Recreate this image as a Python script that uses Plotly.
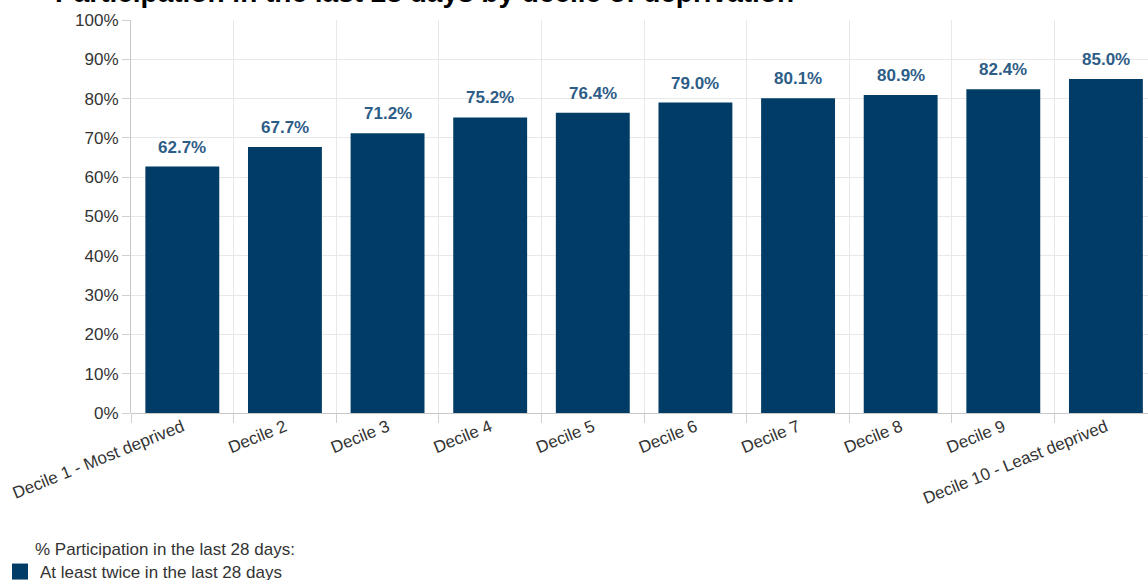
import plotly.graph_objects as go

categories = ["Decile 1 - Most deprived", "Decile 2", "Decile 3", "Decile 4", "Decile 5",
              "Decile 6", "Decile 7", "Decile 8", "Decile 9", "Decile 10 - Least deprived"]
values = [62.7, 67.7, 71.2, 75.2, 76.4, 79.0, 80.1, 80.9, 82.4, 85.0]
series_name = "At least twice in the last 28 days"
legend_title = "% Participation in the last 28 days:"
title_text = "Participation in the last 28 days by decile of deprivation"
y_ticks = [0, 10, 20, 30, 40, 50, 60, 70, 80, 90, 100]

BAR = "#003c66"
LABEL = "#2d5d87"
FONT = "Liberation Sans, Arial, sans-serif"

W, H = 1148, 580
L, T, B = 131, 20, 167
PW, PH = W - L, H - T - B

fig = go.Figure()
fig.add_trace(go.Bar(
    x=categories, y=values, name=series_name,
    marker=dict(color=BAR, line=dict(width=0)),
    showlegend=False,
))
# legend entry (square swatch) for the bar series
fig.add_trace(go.Scatter(
    x=[None], y=[None], mode="markers", name=series_name,
    marker=dict(symbol="square", size=16, color=BAR),
    showlegend=True,
))

for c, v in zip(categories, values):
    fig.add_annotation(x=c, y=v, text=f"<b>{v:.1f}%</b>", showarrow=False,
                       yanchor="bottom", yshift=8,
                       font=dict(family=FONT, size=17, color=LABEL))

# legend heading
fig.add_annotation(xref="paper", yref="paper", x=(33 - L) / PW, y=(H - B - 549) / PH,
                   xanchor="left", yanchor="middle", showarrow=False,
                   text=legend_title, font=dict(family=FONT, size=17, color="#333333"))

# chart title (mostly clipped at the top edge, as in the reference)
fig.add_annotation(xref="paper", yref="paper", x=(53 - L) / PW, y=(H - B + 8) / PH,
                   xanchor="left", yanchor="middle", showarrow=False,
                   text=f"<b>{title_text}</b>",
                   font=dict(family=FONT, size=28, color="#000000"))

fig.update_layout(
    width=W, height=H,
    margin=dict(l=L, r=0, t=T, b=B),
    paper_bgcolor="white", plot_bgcolor="white",
    font=dict(family=FONT, size=17, color="#333333"),
    bargap=0.28,
    showlegend=True,
    legend=dict(xref="paper", yref="container", x=(-4 - L) / PW, y=8/H,
                xanchor="left", yanchor="middle", orientation="h",
                font=dict(family=FONT, size=17, color="#333333"),
                itemsizing="trace"),
    xaxis=dict(type="category", range=[-0.5, 9.41], tickson="boundaries",
               ticks="outside", ticklen=9, tickcolor="#d0d0d0",
               showgrid=True, gridcolor="#e8e8e8", gridwidth=1,
               showline=False, tickangle=-22,
               tickfont=dict(family=FONT, size=17, color="#333333")),
    yaxis=dict(range=[0, 100], tickvals=y_ticks, ticktext=[f"{t}%" for t in y_ticks],
               ticks="outside", ticklen=8, tickcolor="#d0d0d0",
               showgrid=True, gridcolor="#e8e8e8", gridwidth=1,
               showline=True, linecolor="#c8c8c8", linewidth=1,
               zeroline=True, zerolinecolor="#c8c8c8", zerolinewidth=1,
               tickfont=dict(family=FONT, size=17, color="#333333")),
)

fig.write_html("out.html", config={"displayModeBar": False},
               post_script="document.body.style.margin='0px';")
